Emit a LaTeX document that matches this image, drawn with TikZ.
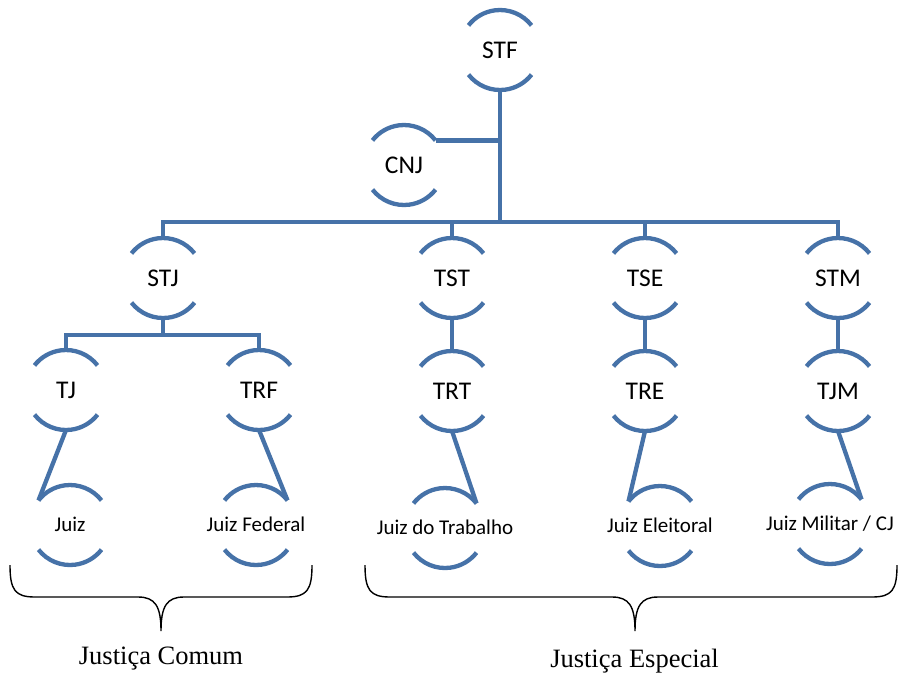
\documentclass[tikz,border=0pt]{standalone}
\usepackage{fontspec}
\setmainfont{Carlito}
\newfontfamily\bracefont{Liberation Serif}
\definecolor{blueline}{HTML}{4672A8}
\begin{document}
\begin{tikzpicture}[x=1pt,y=1pt,
  hub/.style={circle, draw=none, minimum size=80pt, inner sep=0pt, outer sep=0pt},
  biglbl/.style={font=\fontsize{25.5}{28}\selectfont, text height=16.4pt, text depth=0pt, inner sep=0pt},
  smalllbl/.style={font=\fontsize{21}{24}\selectfont, text height=13.5pt, text depth=0pt, inner sep=0pt},
  arcline/.style={draw=blueline, line width=4.3pt},
  conn/.style={draw=blueline, line width=4.3pt},
  bracepath/.style={draw=black, line width=1.4pt},
  bracetext/.style={font=\bracefont\fontsize{26.5}{30}\selectfont, anchor=base, inner sep=0pt}
]
\useasboundingbox (0,0) rectangle (901,-673);

% nodes
\node[hub, label={[biglbl]center:STF}] (STF) at (500,-50) {};
\node[hub, label={[biglbl]center:CNJ}] (CNJ) at (404,-165) {};
\node[hub, label={[biglbl]center:STJ}] (STJ) at (163,-278) {};
\node[hub, label={[biglbl]center:TST}] (TST) at (452,-278) {};
\node[hub, label={[biglbl]center:TSE}] (TSE) at (645,-278) {};
\node[hub, label={[biglbl]center:STM}] (STM) at (838,-278) {};
\node[hub, label={[biglbl]center:TJ}] (TJ) at (66,-390) {};
\node[hub, label={[biglbl]center:TRF}] (TRF) at (259,-390) {};
\node[hub, label={[biglbl]center:TRT}] (TRT) at (452,-391) {};
\node[hub, label={[biglbl]center:TRE}] (TRE) at (645,-391) {};
\node[hub, label={[biglbl]center:TJM}] (TJM) at (838,-391) {};
\node[hub, label={[smalllbl]center:Juiz}] (JU) at (70,-525) {};
\node[hub, label={[smalllbl]center:Juiz Federal}] (JF) at (256,-525) {};
\node[hub, label={[smalllbl]center:Juiz do Trabalho}] (JT) at (445,-528) {};
\node[hub, label={[smalllbl]center:Juiz Eleitoral}] (JE) at (660,-526) {};
\node[hub, label={[smalllbl]center:Juiz Militar / CJ}] (JM) at (830,-524) {};

% arcs of each node
\foreach \n in {STF,CNJ,STJ,TST,TSE,STM,TJ,TRF,TRT,TRE,TJM,JU,JF,JT,JE,JM}{
  \draw[arcline] (\n.38) arc[start angle=38, end angle=142, radius=40pt];
  \draw[arcline] (\n.218) arc[start angle=218, end angle=322, radius=40pt];
}

% connectors
\coordinate (bus1) at (500,-222);
\coordinate (bus2) at (163,-335);
\draw[conn] (STF.south) -- (bus1);
\draw[conn] (CNJ.38) -- (CNJ.38 -| STF.south);
\draw[conn] (STJ.north) |- (bus1) -| (STM.north);
\draw[conn] (TST.north) -- (TST.north |- bus1);
\draw[conn] (TSE.north) -- (TSE.north |- bus1);
\draw[conn] (STJ.south) -- (bus2);
\draw[conn] (TJ.north) |- (bus2) -| (TRF.north);
\draw[conn] (TST.south) -- (TRT.north);
\draw[conn] (TSE.south) -- (TRE.north);
\draw[conn] (STM.south) -- (TJM.north);
\draw[conn] (TJ.south) -- (JU.142);
\draw[conn] (TRF.south) -- (JF.38);
\draw[conn] (TRT.south) -- (JT.38);
\draw[conn] (TRE.south) -- (JE.142);
\draw[conn] (TJM.south) -- (JM.38);

% braces
\draw[bracepath] (10,-565) .. controls (10,-590) and (15,-597) .. (35,-597)
  -- (138,-597) .. controls (155,-597) and (161,-606) .. (161,-631)
  .. controls (161,-606) and (167,-597) .. (184,-597)
  -- (287,-597) .. controls (307,-597) and (312,-590) .. (312,-565);
\draw[bracepath] (365,-565) .. controls (365,-590) and (370,-597) .. (390,-597)
  -- (612,-597) .. controls (629,-597) and (635,-606) .. (635,-631)
  .. controls (635,-606) and (641,-597) .. (658,-597)
  -- (872,-597) .. controls (892,-597) and (897,-590) .. (897,-565);
\node[bracetext] (comum) at (161,-664) {Justiça Comum};
\node[bracetext] (especial) at (634.5,-667) {Justiça Especial};
\end{tikzpicture}
\end{document}
